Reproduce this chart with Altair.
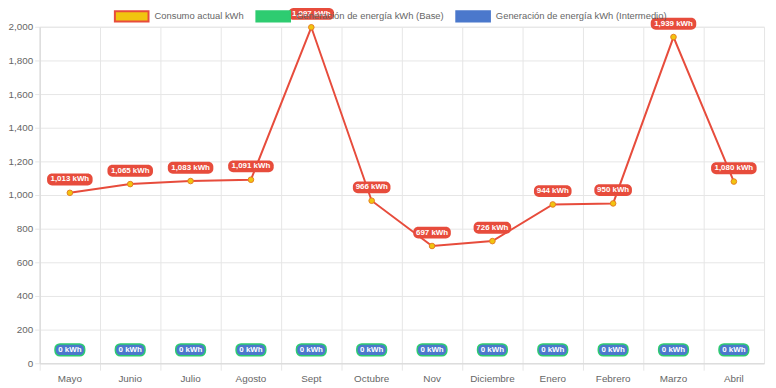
import altair as alt
import pandas as pd

months = ["Mayo", "Junio", "Julio", "Agosto", "Sept", "Octubre", "Nov",
          "Diciembre", "Enero", "Febrero", "Marzo", "Abril"]
consumo = [1013, 1065, 1083, 1091, 1997, 966, 697, 726, 944, 950, 1939, 1080]
base = [0, 0, 0, 0, 0, 0, 0, 0, 0, 0, 0, 0]
intermedio = [0, 0, 0, 0, 0, 0, 0, 0, 0, 0, 0, 0]
series = ["Consumo actual kWh", "Generación de energía kWh (Base)",
          "Generación de energía kWh (Intermedio)"]
y_ticks = [0, 200, 400, 600, 800, 1000, 1200, 1400, 1600, 1800, 2000]

RED = "#e74c3c"
YELLOW = "#f1c40f"
GREEN = "#2ecc71"
BLUE = "#4b78cc"
FONT = "Liberation Sans"

df = pd.DataFrame({"mes": months, "consumo": consumo, "base": base,
                   "intermedio": intermedio})
df["lbl"] = df["consumo"].map(lambda v: f"{v:,} kWh")
df["n"] = df["lbl"].str.len()
df["lbl0"] = df["intermedio"].map(lambda v: f"{v:,} kWh")

leg_df = pd.DataFrame({"serie": series, "mes": [months[0]] * 3, "v": [0, 0, 0]})

xscale = alt.Scale(type="band", domain=months, paddingInner=0, paddingOuter=0)
X = alt.X("mes:N", sort=months, scale=xscale, title=None,
          axis=alt.Axis(bandPosition=0, tickSize=7,
                        labelPadding=3, labelAngle=0, grid=True))
yscale = alt.Scale(domain=[0, 2000], nice=False)
yaxis = alt.Axis(values=y_ticks, format=",.0f", tickSize=5, labelPadding=2,
                 grid=True, title=None)


def Y(field):
    return alt.Y(field, type="quantitative", scale=yscale, axis=yaxis)


basec = alt.Chart(df)

legend_def = alt.Legend(
    title=None, orient="none", legendX=75, legendY=-29, direction="horizontal",
    symbolType="M-1,-0.3H1V0.3H-1Z", symbolSize=1156, symbolStrokeWidth=2,
    symbolOpacity=1, labelFont=FONT, labelFontSize=9.5, labelColor="#666",
    labelOffset=5, columnPadding=8, padding=0, labelLimit=400)

legend_layer = alt.Chart(leg_df).mark_text(text="").encode(
    x=X, y=Y("v"),
    fill=alt.Fill("serie:N", sort=series,
                  scale=alt.Scale(domain=series, range=[YELLOW, GREEN, BLUE]),
                  legend=legend_def),
    stroke=alt.Stroke("serie:N", sort=series,
                      scale=alt.Scale(domain=series, range=[RED, GREEN, BLUE]),
                      legend=legend_def),
)

zero_rect = basec.mark_rect(width=30, cornerRadius=5, yOffset=-19.5, y2Offset=-7.5,
                            fill=BLUE, stroke=GREEN, strokeWidth=1.5).encode(
    x=X, y=Y("intermedio"), y2="intermedio")
zero_text = basec.mark_text(dy=-13.5, font=FONT, fontSize=8, fontWeight="bold",
                            color="white", baseline="middle").encode(
    x=X, y=Y("intermedio"), text="lbl0:N")

line = basec.mark_line(color=RED, strokeWidth=2).encode(x=X, y=Y("consumo"))
points = basec.mark_circle(size=32, opacity=1, color=YELLOW, stroke="#e67e22",
                           strokeWidth=1).encode(x=X, y=Y("consumo"))

rect4 = basec.transform_filter("datum.n >= 9").mark_rect(
    width=46, cornerRadius=5, yOffset=-19.5, y2Offset=-7.5, fill=RED).encode(
    x=X, y=Y("consumo"), y2="consumo")
rect3 = basec.transform_filter("datum.n < 9").mark_rect(
    width=38, cornerRadius=5, yOffset=-19.5, y2Offset=-7.5, fill=RED).encode(
    x=X, y=Y("consumo"), y2="consumo")
labels = basec.mark_text(dy=-13.5, font=FONT, fontSize=8, fontWeight="bold",
                         color="white", baseline="middle").encode(
    x=X, y=Y("consumo"), text="lbl:N")

chart = alt.layer(
    legend_layer, zero_rect, zero_text, line, points, rect4, rect3, labels
).properties(
    width=732, height=340,
    autosize=alt.AutoSizeParams(type="none"),
    padding={"left": 32, "top": 17, "right": 4, "bottom": 20},
).configure(
    font=FONT, background="white"
).configure_view(
    stroke="#e6e6e6", strokeWidth=1
).configure_axis(
    labelFont=FONT, labelFontSize=10, labelColor="#666",
    gridColor="#e6e6e6", tickColor="#e6e6e6", domainColor="#d9d9d9",
)

chart.save("out.html", embed_options={"renderer": "svg", "actions": False})
